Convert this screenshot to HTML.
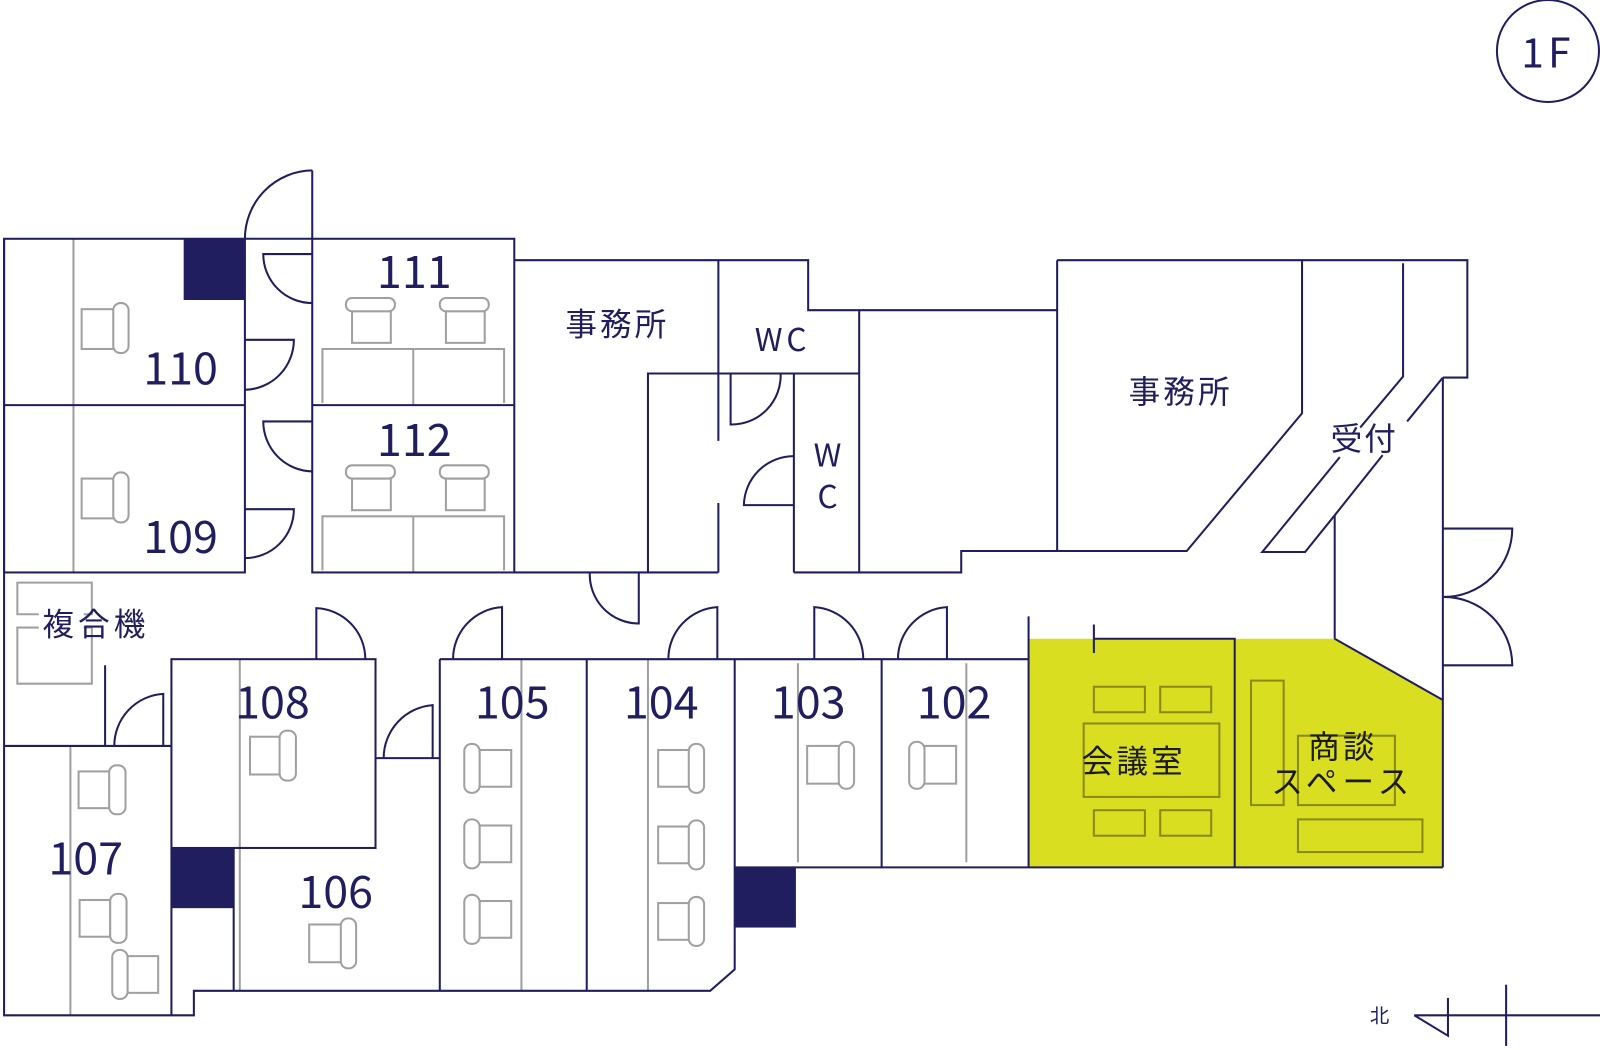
<!DOCTYPE html>
<html><head><meta charset="utf-8">
<style>
html,body{margin:0;padding:0;background:#fff;width:1600px;height:1050px;overflow:hidden}
svg{display:block}
text{font-family:"Noto Sans CJK JP","Liberation Sans",sans-serif}
</style></head>
<body>
<svg width="1600" height="1050" viewBox="0 0 1568 1029" preserveAspectRatio="none" xmlns="http://www.w3.org/2000/svg">
<polygon points="1008,626 1308,626 1414,686 1414,850 1008,850" fill="#d9df20"/>
<g fill="none" stroke="#8a8a12" stroke-width="2">
<rect x="1072" y="673" width="50" height="25"/><rect x="1137" y="673" width="50" height="25"/>
<rect x="1062" y="709" width="133" height="72"/>
<rect x="1072" y="794" width="50" height="25"/><rect x="1137" y="794" width="50" height="25"/>
<rect x="1226" y="667" width="32" height="122"/>
<rect x="1272" y="721" width="95" height="68"/>
<rect x="1272" y="803" width="122" height="32"/>
</g>
<g fill="#fff" stroke="#a0a0a0" stroke-width="2">
<line x1="72" y1="234" x2="72" y2="561"/>
<line x1="69" y1="731" x2="69" y2="995"/>
<line x1="235" y1="646" x2="235" y2="971"/>
<line x1="511" y1="646" x2="511" y2="971"/>
<line x1="635" y1="646" x2="635" y2="971"/>
<line x1="782" y1="650" x2="782" y2="845"/>
<line x1="947" y1="650" x2="947" y2="845"/>
<polyline fill="none" points="316,395 316,342 494,342 494,395"/><line x1="405" y1="342" x2="405" y2="397"/>
<polyline fill="none" points="316,559 316,506 494,506 494,559"/><line x1="405" y1="506" x2="405" y2="561"/>
<rect x="345" y="305" width="38" height="31"/><rect x="339" y="292" width="48" height="13" rx="6"/>
<rect x="437" y="305" width="38" height="31"/><rect x="431" y="292" width="48" height="13" rx="6"/>
<rect x="345" y="469" width="38" height="31"/><rect x="339" y="456" width="48" height="13" rx="6"/>
<rect x="437" y="469" width="38" height="31"/><rect x="431" y="456" width="48" height="13" rx="6"/>
<rect x="80" y="303" width="32" height="39"/><rect x="111" y="297" width="15" height="49" rx="7"/>
<rect x="80" y="469" width="32" height="39"/><rect x="111" y="463" width="15" height="49" rx="7"/>
<rect x="77" y="756" width="31" height="36"/><rect x="107" y="750" width="16" height="48" rx="7"/>
<rect x="78" y="882" width="30" height="36"/><rect x="108" y="876" width="16" height="48" rx="7"/>
<rect x="125" y="937" width="30" height="36"/><rect x="110" y="931" width="15" height="48" rx="7"/>
<rect x="245" y="722" width="30" height="37"/><rect x="274" y="716" width="16" height="49" rx="7"/>
<rect x="303" y="906" width="32" height="37"/><rect x="334" y="900" width="15" height="49" rx="7"/>
<rect x="645" y="735" width="32" height="36"/><rect x="675" y="729" width="15" height="48" rx="7"/>
<rect x="645" y="810" width="32" height="36"/><rect x="675" y="804" width="15" height="48" rx="7"/>
<rect x="645" y="885" width="32" height="36"/><rect x="675" y="879" width="15" height="48" rx="7"/>
<rect x="791" y="731" width="32" height="37"/><rect x="822" y="727" width="15" height="46" rx="7"/>
<rect x="470" y="735" width="31" height="36"/><rect x="455" y="729" width="15" height="48" rx="7"/>
<rect x="470" y="809" width="31" height="36"/><rect x="455" y="803" width="15" height="48" rx="7"/>
<rect x="470" y="883" width="31" height="36"/><rect x="455" y="877" width="15" height="48" rx="7"/>
<rect x="906" y="731" width="31" height="37"/><rect x="891" y="727" width="15" height="46" rx="7"/>
<polyline fill="none" points="38,602 17,602 17,571 90,571 90,602 82,602"/>
<polyline fill="none" points="38,615 17,615 17,670 90,670 90,615 82,615"/>
</g>
<g fill="#201e5e">
<rect x="180" y="234" width="60" height="60"/>
<rect x="168" y="831" width="61" height="59"/>
<rect x="720" y="850" width="60" height="59"/>
</g>
<g fill="none" stroke="#201e5e" stroke-width="2">
<rect x="4" y="234" width="236" height="327"/>
<line x1="4" y1="397" x2="240" y2="397"/>
<line x1="240" y1="234" x2="306" y2="234"/>
<rect x="306" y="234" width="198" height="327"/>
<line x1="306" y1="397" x2="504" y2="397"/>
<line x1="306" y1="167" x2="306" y2="234"/>
<path d="M306,167 A67,67 0 0 0 240,234"/>
<path d="M306,249 L258,249 A48,48 0 0 0 306,297"/>
<path d="M306,413 L258,413 A49,49 0 0 0 306,462"/>
<path d="M240,333 L288,333 A49,49 0 0 1 240,382"/>
<path d="M240,499 L288,499 A48,48 0 0 1 240,547"/>
<polyline points="504,255 792,255 792,304 1036,304"/>
<line x1="704" y1="561" x2="504" y2="561"/>
<line x1="704" y1="255" x2="704" y2="432"/>
<line x1="704" y1="493" x2="704" y2="561"/>
<polyline points="635,561 635,366 842,366"/>
<line x1="778" y1="366" x2="778" y2="561"/>
<line x1="842" y1="304" x2="842" y2="561"/>
<path d="M716,366 L716,416 A48,48 0 0 0 765,366"/>
<path d="M778,447 A49,49 0 0 0 729,495 L778,495"/>
<polyline points="778,561 942,561 942,540 1163,540 1276,405 1276,255"/>
<line x1="1036" y1="255" x2="1036" y2="540"/>
<polyline points="1036,255 1438,255 1438,370 1414,370"/>
<polyline points="1375,258 1375,369 1333,419"/>
<polyline points="1313,448 1237,541 1279,541 1308,505"/>
<line x1="1308" y1="505" x2="1355" y2="446"/>
<line x1="1379" y1="413" x2="1414" y2="370"/>
<line x1="1308" y1="505" x2="1308" y2="626"/>
<line x1="1414" y1="370" x2="1414" y2="850"/>
<path d="M1414,518 L1482,518 A67,67 0 0 1 1414,585 A67,67 0 0 1 1482,652 L1414,652"/>
<path d="M626,561 L626,611 A48,48 0 0 1 578,561"/>
<line x1="431" y1="646" x2="1008" y2="646"/>
<line x1="431" y1="646" x2="431" y2="971"/>
<line x1="575" y1="646" x2="575" y2="971"/>
<polyline points="720,646 720,950 696,971 190,971 190,995 4,995 4,234"/>
<line x1="864" y1="646" x2="864" y2="850"/>
<line x1="720" y1="850" x2="1414" y2="850"/>
<line x1="1008" y1="604" x2="1008" y2="850"/>
<line x1="1072" y1="612" x2="1072" y2="640"/>
<polyline points="1072,626 1210,626 1210,850"/>
<line x1="1308" y1="626" x2="1414" y2="686"/>
<path d="M492,646 L492,595 A51,51 0 0 0 444,646"/>
<path d="M703,646 L703,595 A51,51 0 0 0 655,646"/>
<path d="M798,646 L798,595 A51,51 0 0 1 846,646"/>
<path d="M928,646 L928,595 A51,51 0 0 0 880,646"/>
<path d="M310,646 L310,596 A50,50 0 0 1 358,646"/>
<rect x="168" y="646" width="200" height="185"/>
<line x1="168" y1="831" x2="168" y2="995"/>
<line x1="229" y1="831" x2="229" y2="971"/>
<line x1="4" y1="731" x2="168" y2="731"/>
<line x1="103" y1="652" x2="103" y2="731"/>
<path d="M160,731 L160,680 A51,51 0 0 0 112,731"/>
<path d="M424,743 L424,691 A52,52 0 0 0 376,743"/>
<line x1="368" y1="743" x2="431" y2="743"/>
<line x1="1386" y1="995" x2="1568" y2="995"/>
<polyline points="1386,995 1419,1015 1419,978"/>
<line x1="1476" y1="965" x2="1476" y2="1025"/>
<circle cx="1517" cy="50" r="50"/>
</g>
<g fill="#201e5e" font-size="44" text-anchor="middle">
<text x="177" y="377">110</text>
<text x="177" y="542">109</text>
<text x="406" y="282">111</text>
<text x="406" y="447">112</text>
<text x="267" y="704">108</text>
<text x="84" y="857">107</text>
<text x="329" y="890">106</text>
<text x="502" y="704">105</text>
<text x="648" y="704">104</text>
<text x="792" y="704">103</text>
<text x="935" y="704">102</text>
</g>
<g fill="#201e5e" font-size="31" text-anchor="middle">
<text x="605" y="329" letter-spacing="3">事務所</text>
<text x="1157" y="395" letter-spacing="3">事務所</text>
<text x="767" y="344" letter-spacing="4">WC</text>
<text x="811" y="457">W</text>
<text x="811" y="498">C</text>
<text x="1337" y="441" letter-spacing="2">受付</text>
<text x="94" y="623" letter-spacing="4">複合機</text>
<text x="1517" y="66" font-size="40" letter-spacing="4">1F</text>
<text x="1352" y="1002" font-size="19">北</text>
</g>
<g fill="#1a1a1a" font-size="31" text-anchor="middle">
<text x="1111" y="757" letter-spacing="3">会議室</text>
<text x="1316" y="743" letter-spacing="3">商談</text>
<text x="1316" y="777" letter-spacing="5">スペース</text>
</g>
</svg>
</body></html>
